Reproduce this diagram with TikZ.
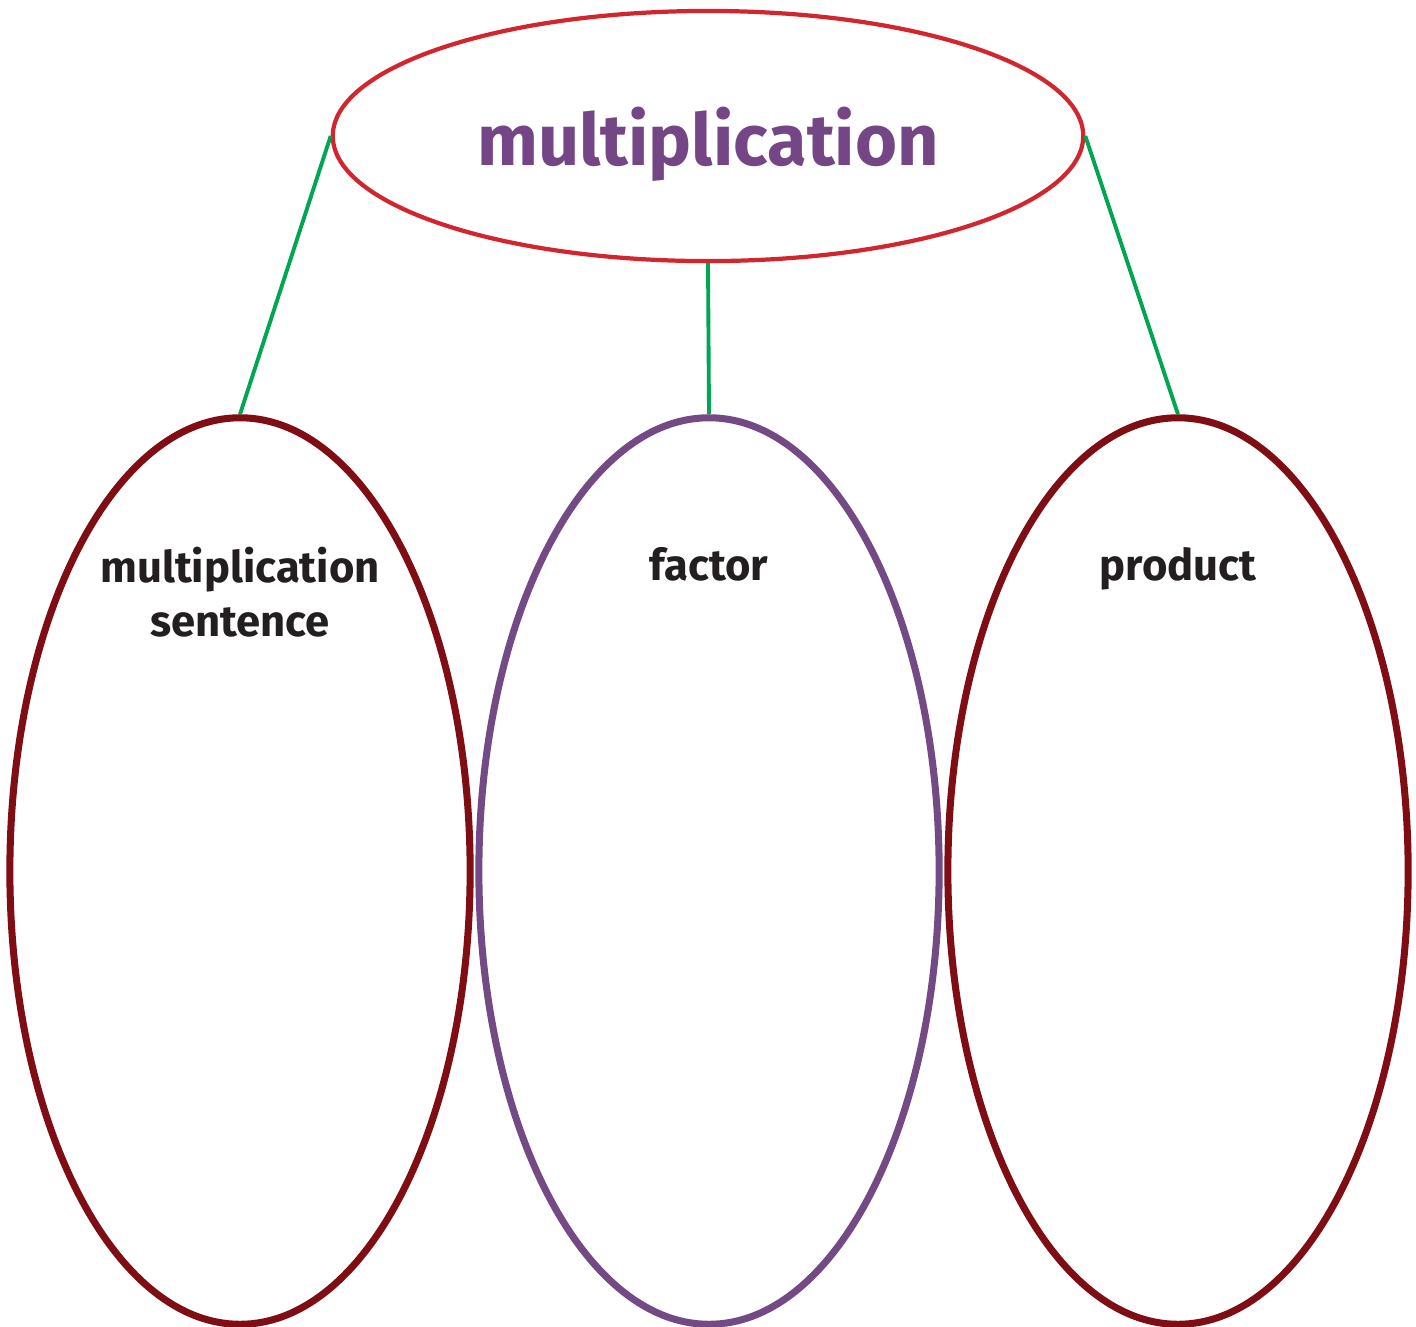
\documentclass[tikz,border=0pt]{standalone}
\usepackage{fontspec}
\setmainfont{Fira Sans}
\usetikzlibrary{shapes.geometric, positioning}

\begin{document}
\begin{tikzpicture}[x=0.01cm, y=-0.01cm]
        \tikzset{
            % Define style for the main topic
            topic/.style={
                    ellipse,
                    draw={rgb,255:red,210;green,38;blue,47}, line width=1.2pt,
                    minimum width=7.5cm,
                    minimum height=2.5cm,
                    inner sep=0pt,
                    text height=20pt, text depth=3.5pt,
                    text={rgb,255:red,116;green,70;blue,133},
                    font=\fontsize{20.5}{24}\selectfont\bfseries},
            % Define style for the sub bubbles
            bubble/.style={
                    ellipse,
                    line width=2pt,
                    minimum width=4.6cm,
                    minimum height=9.06cm,
                    inner sep=0pt},
            % Define style for bubble titles
            word/.style={
                    align=center,
                    text={rgb,255:red,35;green,31;blue,32},
                    font=\fontsize{12.4}{15.3}\selectfont\bfseries},
            % Define connector style
            link/.style={
                    draw={rgb,255:red,0;green,166;blue,81},
                    line width=1.1pt},
        }
        \useasboundingbox (0,0) rectangle (1416,1326);

        % Draw the bubbles
        \node[topic] (mult) at (708,136) {multiplication};
        \node[bubble, draw={rgb,255:red,127;green,14;blue,20}] (sent) at (240,871) {};
        \node[bubble, draw={rgb,255:red,116;green,74;blue,133}] (fact) at (709,871) {};
        \node[bubble, draw={rgb,255:red,127;green,14;blue,20}] (prod) at (1178,871) {};

        % Titles inside the bubbles
        \node[word, anchor=north] (sentw) at (240,535) {multiplication\\sentence};
        \node[word, anchor=north] (factw) at (709,535) {factor};
        \node[word, anchor=north] (prodw) at (1178,535) {product};

        % Connect the bubbles
        \draw[link] (mult.west) -- (sent.north);
        \draw[link] (mult.south) -- (fact.north);
        \draw[link] (mult.east) -- (prod.north);

    \end{tikzpicture}
\end{document}
